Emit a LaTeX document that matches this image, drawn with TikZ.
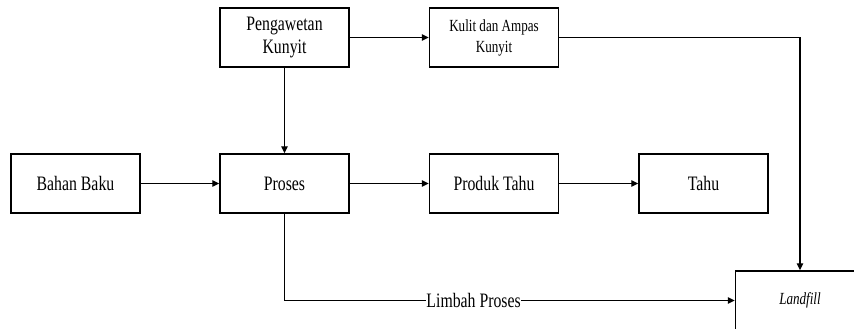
\documentclass[tikz,border=0pt]{standalone}
\usepackage{fontspec}
\setmainfont{Liberation Serif}[FakeStretch=0.77]
\usetikzlibrary{arrows.meta}
\begin{document}
\begin{tikzpicture}[x=1pt,y=-1pt,
  box/.style={draw, line width=1.5pt, minimum width=129pt, minimum height=59pt,
              inner sep=0pt, align=center, font=\fontsize{20.5}{23}\selectfont},
  flow/.style={line width=1.4pt, -{Triangle[length=7pt,width=6.5pt]}}]
  \useasboundingbox (0,0) rectangle (854,329);
  \clip (0,0) rectangle (854,329);

  % process blocks
  \node[box] (peng)   at (284.5,37.5)  {Pengawetan\\Kunyit};
  \node[box, font=\fontsize{17}{21}\selectfont] (kulit) at (494,37.5) {Kulit dan Ampas\\Kunyit};
  \node[box] (bahan)  at (75.5,183.5)  {Bahan Baku};
  \node[box] (proses) at (284.5,183.5) {Proses};
  \node[box] (produk) at (494,183.5)   {Produk Tahu};
  \node[box] (tahu)   at (703.5,183.5) {Tahu};
  \node[box, font=\fontsize{17}{20}\selectfont\itshape] (landfill) at (800,300.5) {Landfill};

  % corner points of the routed lines
  \coordinate (kturn) at (landfill.north |- kulit.east);
  \coordinate (pturn) at (proses.south |- landfill.west);

  % flows
  \draw[flow] (peng) -- (kulit);
  \draw[flow] (peng) -- (proses);
  \draw[flow] (bahan) -- (proses);
  \draw[flow] (proses) -- (produk);
  \draw[flow] (produk) -- (tahu);
  \draw[flow] (kulit.east) -- (kturn) -- (landfill.north);
  \draw[flow] (proses.south) -- (pturn) -- (landfill.west)
    node[pos=0.42, fill=white, inner sep=0pt, font=\fontsize{20.5}{23}\selectfont] (limbah) {Limbah Proses};
\end{tikzpicture}
\end{document}
